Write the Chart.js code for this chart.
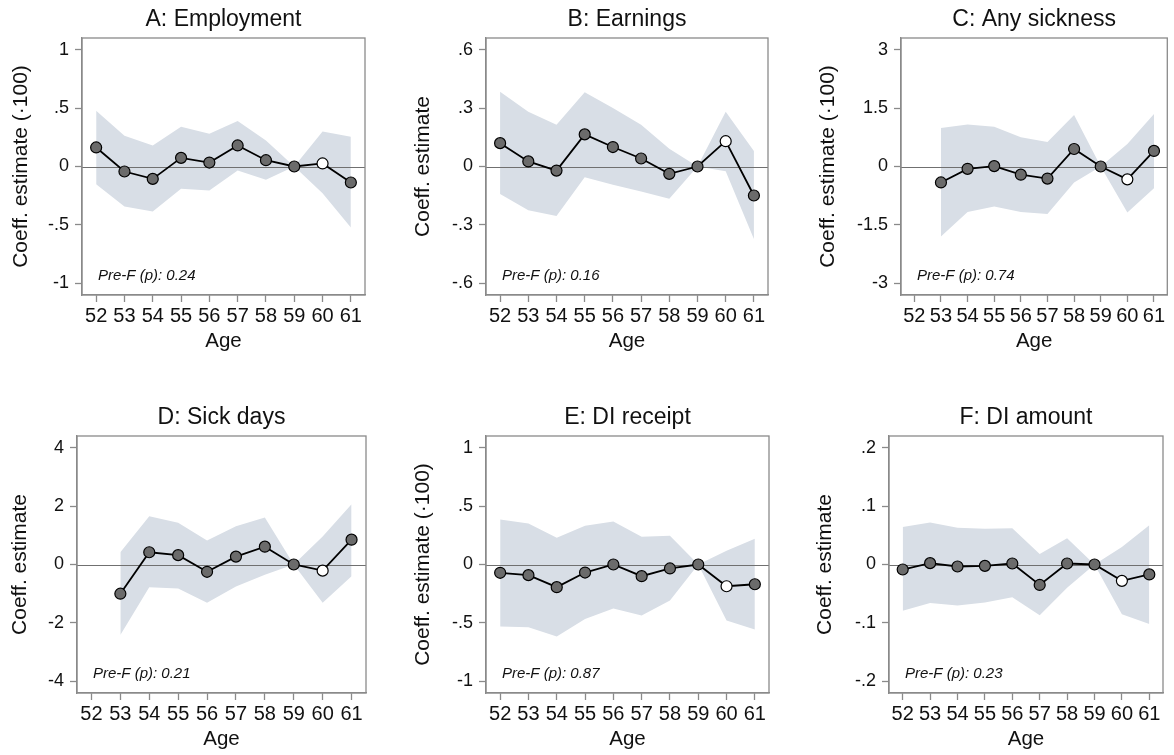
<!DOCTYPE html>
<html>
<head>
<meta charset="utf-8">
<script src="https://cdn.jsdelivr.net/npm/chart.js@4"></script>
<style>
  body { margin: 0; background: #fff; }
  #wrap { position: relative; width: 1174px; height: 755px; }
  canvas { position: absolute; }
</style>
</head>
<body>
<div id="wrap"></div>
<script>
// Event-study coefficients by age, six outcomes

const ages = [52, 53, 54, 55, 56, 57, 58, 59, 60, 61];
const hollowAge = 60;

const titles = ["A: Employment", "B: Earnings", "C: Any sickness", "D: Sick days", "E: DI receipt", "F: DI amount"];
const yTitles = ["Coeff. estimate (\u00b7100)", "Coeff. estimate", "Coeff. estimate (\u00b7100)", "Coeff. estimate", "Coeff. estimate (\u00b7100)", "Coeff. estimate"];
const preF = ["0.24", "0.16", "0.74", "0.21", "0.87", "0.23"];

// y tick values and their labels
const yTicksA = [-1, -0.5, 0, 0.5, 1];
const yTicksB = [-0.6, -0.3, 0, 0.3, 0.6];
const yTicksC = [-3, -1.5, 0, 1.5, 3];
const yTicksD = [-4, -2, 0, 2, 4];
const yTicksE = [-1, -0.5, 0, 0.5, 1];
const yTicksF = [-0.2, -0.1, 0, 0.1, 0.2];
const yLabelsA = ["-1", "-.5", "0", ".5", "1"];
const yLabelsB = ["-.6", "-.3", "0", ".3", ".6"];
const yLabelsC = ["-3", "-1.5", "0", "1.5", "3"];
const yLabelsD = ["-4", "-2", "0", "2", "4"];
const yLabelsE = ["-1", "-.5", "0", ".5", "1"];
const yLabelsF = ["-.2", "-.1", "0", ".1", ".2"];

// A: Employment
const coefA = [0.163, -0.043, -0.106, 0.074, 0.034, 0.18, 0.054, 0, 0.026, -0.137];
const hiA = [0.477, 0.263, 0.18, 0.34, 0.28, 0.39, 0.223, 0, 0.30, 0.254];
const loA = [-0.151, -0.343, -0.386, -0.19, -0.206, -0.034, -0.114, 0, -0.23, -0.523];

// B: Earnings
const coefB = [0.12, 0.026, -0.021, 0.165, 0.1, 0.041, -0.038, 0, 0.13, -0.149];
const hiB = [0.384, 0.281, 0.214, 0.382, 0.3, 0.214, 0.091, 0, 0.281, 0.079];
const loB = [-0.141, -0.225, -0.254, -0.055, -0.094, -0.129, -0.166, 0, -0.024, -0.372];

// C: Any sickness
const coefC = [null, -0.41, -0.06, 0.01, -0.21, -0.31, 0.45, 0, -0.33, 0.40];
const hiC = [null, 0.99, 1.08, 1.02, 0.75, 0.63, 1.32, 0, 0.58, 1.35];
const loC = [null, -1.8, -1.17, -1.03, -1.17, -1.22, -0.41, 0, -1.18, -0.56];

// D: Sick days
const coefD = [null, -1.0, 0.42, 0.32, -0.25, 0.27, 0.61, 0, -0.21, 0.85];
const hiD = [null, 0.42, 1.65, 1.43, 0.82, 1.31, 1.61, 0, 0.96, 2.06];
const loD = [null, -2.41, -0.78, -0.82, -1.31, -0.75, -0.35, 0, -1.31, -0.40];

// E: DI receipt
const coefE = [-0.071, -0.091, -0.194, -0.069, 0.0, -0.1, -0.034, 0, -0.186, -0.169];
const hiE = [0.386, 0.35, 0.229, 0.331, 0.369, 0.237, 0.246, 0, 0.117, 0.22];
const loE = [-0.53, -0.537, -0.617, -0.466, -0.377, -0.437, -0.309, 0, -0.48, -0.557];

// F: DI amount
const coefF = [-0.0086, 0.0023, -0.0034, -0.0023, 0.0017, -0.035, 0.0017, 0, -0.028, -0.017];
const hiF = [0.064, 0.072, 0.063, 0.061, 0.062, 0.018, 0.045, 0, 0.03, 0.067];
const loF = [-0.079, -0.066, -0.07, -0.065, -0.056, -0.087, -0.04, 0, -0.085, -0.102];

const panels = [
  { coef: coefA, hi: hiA, lo: loA, ticks: yTicksA, labels: yLabelsA },
  { coef: coefB, hi: hiB, lo: loB, ticks: yTicksB, labels: yLabelsB },
  { coef: coefC, hi: hiC, lo: loC, ticks: yTicksC, labels: yLabelsC },
  { coef: coefD, hi: hiD, lo: loD, ticks: yTicksD, labels: yLabelsD },
  { coef: coefE, hi: hiE, lo: loE, ticks: yTicksE, labels: yLabelsE },
  { coef: coefF, hi: hiF, lo: loF, ticks: yTicksF, labels: yLabelsF },
];

// layout of each canvas: column start, y-axis width, right padding, y-title offset
const layout = [
  { x: 0, top: 0, yw: 82, padR: 25, tPad: 9 },
  { x: 390, top: 0, yw: 96, padR: 12, tPad: 21 },
  { x: 780, top: 0, yw: 121, padR: 2, tPad: 36 },
  { x: 0, top: 398, yw: 77, padR: 24, tPad: 8 },
  { x: 390, top: 398, yw: 96, padR: 11, tPad: 21 },
  { x: 780, top: 398, yw: 109, padR: 11, tPad: 33 },
];
const colWidth = [390, 390, 394];
const canvasH = 357;

const FONT = "'Liberation Sans', Arial, sans-serif";
const BAND = "#d8dee6";
const AXIS = "#8a8a8a";

const pts = (vals) => ages.map((a, i) => ({ x: a, y: vals[i] }));

// box around plot area, zero line under the coefficient line, Pre-F note
const framePlugin = {
  id: "frame",
  beforeDatasetDraw(chart, args) {
    if (args.index !== 0) return;
    const { ctx, chartArea } = chart;
    const y0 = Math.round(chart.scales.y.getPixelForValue(0)) + 0.5;
    ctx.save();
    ctx.strokeStyle = "#707070";
    ctx.lineWidth = 1.2;
    ctx.beginPath();
    ctx.moveTo(chartArea.left, y0);
    ctx.lineTo(chartArea.right, y0);
    ctx.stroke();
    ctx.restore();
  },
  afterDraw(chart) {
    const { ctx, chartArea } = chart;
    ctx.save();
    ctx.strokeStyle = AXIS;
    ctx.lineWidth = 1.3;
    ctx.strokeRect(chartArea.left, chartArea.top, chartArea.right - chartArea.left, chartArea.bottom - chartArea.top);
    ctx.fillStyle = "#111";
    ctx.font = "italic 15px " + FONT;
    ctx.textBaseline = "middle";
    ctx.fillText("Pre-F (p): " + chart.options.plugins.frame.p, chartArea.left + 16, chartArea.bottom - 19);
    ctx.restore();
  },
};

const wrap = document.getElementById("wrap");

panels.forEach((p, k) => {
  const L = layout[k];
  const w = colWidth[k % 3];
  const canvas = document.createElement("canvas");
  canvas.width = w;
  canvas.height = canvasH;
  canvas.style.left = L.x + "px";
  canvas.style.top = L.top + "px";
  wrap.appendChild(canvas);

  const maxTick = p.ticks[p.ticks.length - 1];

  new Chart(canvas, {
    type: "line",
    data: {
      datasets: [
        {
          data: pts(p.coef),
          borderColor: "#000",
          borderWidth: 1.8,
          pointRadius: 5.5,
          pointBorderWidth: 1.2,
          pointBorderColor: "#000",
          pointBackgroundColor: (c) => (c.raw && c.raw.x === hollowAge ? "#fff" : "#6b6b6b"),
          fill: false,
          tension: 0,
        },
        {
          data: pts(p.lo),
          borderWidth: 0,
          pointRadius: 0,
          fill: false,
        },
        {
          data: pts(p.hi),
          borderWidth: 0,
          pointRadius: 0,
          backgroundColor: BAND,
          fill: "-1",
        },
      ],
    },
    options: {
      responsive: false,
      animation: false,
      devicePixelRatio: 1,
      layout: { padding: { left: 0, right: L.padR, top: 0, bottom: 0 } },
      plugins: {
        legend: { display: false },
        tooltip: { enabled: false },
        frame: { p: preF[k] },
        title: {
          display: true,
          text: titles[k],
          fullSize: false,
          color: "#111",
          font: { family: FONT, size: 23, weight: "normal" },
          padding: { top: 6, bottom: 4.4 },
        },
      },
      scales: {
        x: {
          type: "linear",
          min: ages[0] - 0.5,
          max: ages[ages.length - 1] + 0.5,
          afterBuildTicks: (s) => { s.ticks = ages.map((a) => ({ value: a })); },
          afterFit: (s) => { s.height = 62; },
          grid: { drawOnChartArea: false, drawTicks: true, tickLength: 7, tickColor: AXIS, tickWidth: 1.3 },
          border: { display: true, color: AXIS, width: 1.3 },
          ticks: { color: "#111", padding: 2, maxRotation: 0, autoSkip: false, font: { family: FONT, size: 20 } },
          title: { display: true, text: "Age", color: "#111", font: { family: FONT, size: 20.5 }, padding: { top: 0, bottom: 3 } },
        },
        y: {
          min: -1.1 * maxTick,
          max: 1.1 * maxTick,
          afterBuildTicks: (s) => { s.ticks = p.ticks.map((v) => ({ value: v })); },
          afterFit: (s) => { s.width = L.yw; },
          grid: { drawOnChartArea: false, drawTicks: true, tickLength: 7, tickColor: AXIS, tickWidth: 1.3 },
          border: { display: true, color: AXIS, width: 1.3 },
          ticks: {
            color: "#111",
            padding: 6,
            font: { family: FONT, size: 18 },
            callback: (v) => p.labels[p.ticks.indexOf(v)],
          },
          title: { display: true, text: yTitles[k], color: "#111", font: { family: FONT, size: 21 }, padding: { top: L.tPad, bottom: 0 } },
        },
      },
    },
    plugins: [framePlugin],
  });
});
</script>
</body>
</html>
